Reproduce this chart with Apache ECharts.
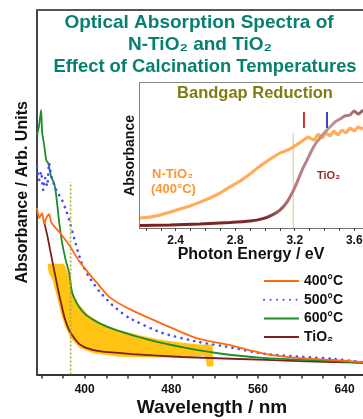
<!DOCTYPE html>
<html><head><meta charset="utf-8">
<script src="https://cdn.jsdelivr.net/npm/echarts@6/dist/echarts.min.js"></script>
<style>html,body{margin:0;padding:0;background:#fff}#c{width:363px;height:419px}</style>
</head><body><div id="c"></div>
<script>
// ---------- main panel data (wavelength nm, absorbance a.u.) ----------
const wlTicks = [360,380,400,420,440,460,480,500,520,540,560,580,600,620,640];
const wlLabels = [400,480,560,640];

const nm400 = [356,358,360.8,362.6,364.5,367.2,369.1,371.8,376.5,381.1,385.7,390.3,394.9,404.2,410.6,422.6,441.1,471.6,503,533.4,567.6,598.1,628.5,656.2,678.4];
const abs400 = [0.457,0.429,0.443,0.413,0.429,0.440,0.418,0.407,0.391,0.374,0.355,0.333,0.311,0.276,0.254,0.213,0.180,0.139,0.100,0.081,0.056,0.045,0.040,0.034,0.029];

const nm500 = [356.1,358,359.8,361.7,363.5,365.4,367.2,369.1,371.8,374.6,378.3,382,385.7,390.3,396.8,404.2,413.4,425.4,441.1,471.6,505.7,533.4,567.6,628.5,656.2,678.4];
const abs500 = [0.569,0.534,0.556,0.506,0.539,0.517,0.580,0.547,0.520,0.501,0.484,0.457,0.424,0.374,0.309,0.267,0.229,0.191,0.155,0.114,0.089,0.075,0.056,0.043,0.034,0.029];

const nm600 = [356.1,358,359.8,360.8,362.6,364.5,366.3,369.1,371.8,373.7,376.5,379.2,382.9,385.7,388.5,394.9,401.4,413.4,429.1,459.6,490,521.4,567.6,628.5,656.2,678.4];
const abs600 = [0.657,0.684,0.726,0.663,0.630,0.588,0.580,0.542,0.525,0.492,0.418,0.361,0.309,0.279,0.224,0.185,0.163,0.141,0.122,0.095,0.075,0.059,0.045,0.037,0.032,0.029];

const nmTiO2 = [362.6,365.4,368.1,370.9,373.7,376.5,379.2,382,385.7,390.3,394.9,401.4,413.4,443.9,490,567.6,628.5,656.2,678.4];
const absTiO2 = [0.418,0.383,0.342,0.300,0.259,0.218,0.183,0.150,0.122,0.100,0.084,0.073,0.064,0.056,0.048,0.040,0.034,0.032,0.029];

// yellow highlighted region outline
const nmYellow = [367.2,380.1,383.8,387.5,393.1,402.3,413.4,429.1,450.3,468.8,482.6,505.7,516.8,517.7,514,512.2,487.3,459.6,431.9,408.8,396.8,388.5,382.9,379.2,375.5,371.8,368.1];
const absYellow = [0.300,0.300,0.273,0.226,0.191,0.161,0.139,0.120,0.104,0.092,0.086,0.078,0.078,0.026,0.026,0.056,0.051,0.051,0.053,0.062,0.075,0.100,0.136,0.171,0.218,0.259,0.281];

const cutoffNm = 387;

// ---------- inset data (photon energy eV, absorbance) ----------
const evTicks = [2.2,2.3,2.4,2.5,2.6,2.7,2.8,2.9,3.0,3.1,3.2,3.3,3.4,3.5,3.6];
const evLabels = [2.4,2.8,3.2,3.6];

const evN = [2.160,2.227,2.294,2.362,2.429,2.496,2.563,2.631,2.698,2.765,2.832,2.899,2.967,3.034,3.101,3.168,3.209,3.249,3.289,3.330,3.357,3.384,3.410,3.437,3.464,3.491,3.518,3.545,3.572,3.599,3.626,3.659];
const absN = [0.082,0.088,0.102,0.122,0.143,0.163,0.190,0.218,0.252,0.293,0.333,0.381,0.435,0.483,0.524,0.551,0.578,0.605,0.633,0.612,0.653,0.626,0.660,0.639,0.673,0.646,0.680,0.660,0.694,0.673,0.701,0.687];

const evT = [2.160,2.362,2.563,2.765,2.899,2.987,3.047,3.101,3.148,3.189,3.222,3.256,3.283,3.316,3.343,3.370,3.404,3.437,3.471,3.504,3.538,3.572,3.599,3.626,3.659];
const absT = [0.031,0.034,0.041,0.051,0.061,0.078,0.102,0.136,0.190,0.265,0.340,0.422,0.476,0.544,0.592,0.626,0.667,0.701,0.735,0.755,0.776,0.782,0.810,0.789,0.816];

const gapN = 3.262, gapT = 3.417, markLo = 0.694, markHi = 0.803;
const edgeEv = 3.19, edgeTop = 0.66;

// ---------- helpers ----------
const zip = (a, b) => a.map((v, i) => [v, b[i]]);
const F = "'Liberation Sans', Arial, sans-serif";
const bold = (size, color) => ({fontFamily: F, fontWeight: 'bold', fontSize: size, color: color || '#111'});
const txt = (x, y, text, size, fill, align) => ({type: 'text', x, y, z: 10,
  style: {text, fontFamily: F, fontWeight: 'bold', fontSize: size, fill, align: align || 'center', verticalAlign: 'middle'}});

const chart = echarts.init(document.getElementById('c'), null, {renderer: 'canvas'});
const yellowPts = zip(nmYellow, absYellow);

const lineS = (name, x, y, color, width, extra) => Object.assign({
  name, type: 'line', xAxisIndex: 0, yAxisIndex: 0, data: zip(x, y), symbol: 'none', smooth: 0.2,
  lineStyle: {color, width}, itemStyle: {color}, z: 5
}, extra || {});

const topLine = (gi, min, max, color, w) => ({gridIndex: gi, type: 'value', position: 'top', min, max,
  axisLine: {show: true, onZero: false, lineStyle: {color, width: w}},
  axisTick: {show: false}, axisLabel: {show: false}, splitLine: {show: false}});

const option = {
  animation: false,
  backgroundColor: '#fff',
  grid: [
    {left: 37, top: 10, right: 0, bottom: 44.5, outerBoundsMode: 'none', containLabel: false},
    {left: 140, top: 83, right: 0, bottom: 191, outerBoundsMode: 'none', containLabel: false,
     show: true, borderWidth: 0, backgroundColor: '#fff', z: 1}
  ],
  xAxis: [
    {gridIndex: 0, type: 'value', min: 356, max: 657,
     axisLine: {show: true, onZero: false, lineStyle: {color: '#333', width: 2}},
     axisTick: {show: true, customValues: wlTicks, length: 4, lineStyle: {color: '#333', width: 1.5}},
     axisLabel: Object.assign({customValues: wlLabels, margin: 9}, bold(12)),
     splitLine: {show: false}},
    {gridIndex: 1, type: 'value', min: 2.16, max: 3.659,
     axisLine: {show: true, onZero: false, lineStyle: {color: '#444', width: 1.5}},
     axisTick: {show: true, customValues: evTicks, length: 3, lineStyle: {color: '#444', width: 1}},
     axisLabel: Object.assign({customValues: evLabels, margin: 7, formatter: v => v.toFixed(1)}, bold(12)),
     splitLine: {show: false}},
    topLine(0, 356, 657, '#555', 2),
    topLine(1, 2.16, 3.659, '#666', 1.5)
  ],
  yAxis: [
    {gridIndex: 0, type: 'value', min: 0, max: 1,
     axisLine: {show: true, onZero: false, lineStyle: {color: '#444', width: 2}},
     axisTick: {show: false}, axisLabel: {show: false}, splitLine: {show: false},
     name: 'Absorbance / Arb. Units', nameLocation: 'middle', nameGap: 6, nameTextStyle: bold(16)},
    {gridIndex: 1, type: 'value', min: 0.014, max: 1,
     axisLine: {show: true, onZero: false, lineStyle: {color: '#555', width: 1.5}},
     axisTick: {show: false}, axisLabel: {show: false}, splitLine: {show: false},
     name: 'Absorbance', nameLocation: 'middle', nameGap: 3, nameTextStyle: bold(14)}
  ],
  legend: {
    data: ['400°C', '500°C', '600°C', 'TiO₂'],
    orient: 'vertical', left: 263, top: 274, padding: 0, itemWidth: 35, itemHeight: 14, itemGap: 4.7,
    itemStyle: {opacity: 0},
    textStyle: bold(14), selectedMode: false
  },
  graphic: [
    txt(199, 23, 'Optical Absorption Spectra of', 19, '#08806f'),
    txt(200, 45, 'N-TiO₂ and TiO₂', 19, '#08806f'),
    txt(205, 67, 'Effect of Calcination Temperatures', 18.4, '#08806f'),
    txt(255, 93, 'Bandgap Reduction', 16.5, '#7d7d12'),
    txt(152, 174, 'N-TiO₂', 13, '#ff9530', 'left'),
    txt(151, 189, '(400°C)', 13, '#ff9530', 'left'),
    txt(317, 176, 'TiO₂', 11, '#8b2e2e', 'left'),
    txt(251, 255, 'Photon Energy / eV', 16, '#111'),
    txt(212, 408, 'Wavelength / nm', 19, '#111')
  ],
  series: [
    {type: 'custom', name: 'highlight', xAxisIndex: 0, yAxisIndex: 0, data: yellowPts, z: 3,
     encode: {x: 0, y: 1},
     renderItem: function (params, api) {
       if (params.dataIndex !== 0) return null;
       const pts = yellowPts.map(p => api.coord(p));
       return {type: 'polygon', shape: {points: pts},
               style: {fill: '#ffc414', stroke: '#ffc414', lineWidth: 3, lineJoin: 'round'}};
     }},
    lineS('TiO₂', nmTiO2, absTiO2, '#7d1f1f', 1.8),
    lineS('600°C', nm600, abs600, '#1e8c2a', 1.8),
    lineS('500°C', nm500, abs500, '#3f4dff', 2.6, {lineStyle: {color: '#3f4dff', width: 2.6, type: [0.1, 6.4], cap: 'round'}}),
    lineS('400°C', nm400, abs400, '#ff6a10', 1.8),
    {type: 'line', name: 'edge', xAxisIndex: 0, yAxisIndex: 0, data: [[cutoffNm, 0], [cutoffNm, 0.528]], symbol: 'none', z: 6,
     lineStyle: {color: '#b0aa3a', width: 1.6, type: [2, 2]}},
    // inset
    {type: 'line', name: 'N-TiO2 inset', xAxisIndex: 1, yAxisIndex: 1, data: zip(evN, absN), symbol: 'none', z: 5,
     lineStyle: {color: '#ffa448', width: 3.2, opacity: 0.9}},
    {type: 'line', name: 'TiO2 inset', xAxisIndex: 1, yAxisIndex: 1, data: zip(evT, absT), symbol: 'none', smooth: 0.2, z: 5,
     lineStyle: {width: 3, color: new echarts.graphic.LinearGradient(0, 0, 1, 0, [
       {offset: 0, color: '#7a2020'}, {offset: 0.55, color: '#7d2a2a'}, {offset: 0.68, color: '#b57a7a'},
       {offset: 0.85, color: '#c29494'}, {offset: 1, color: '#9a5a5a'}])}},
    {type: 'line', name: 'Eg N', xAxisIndex: 1, yAxisIndex: 1, data: [[gapN, markLo], [gapN, markHi]], symbol: 'none', z: 6,
     lineStyle: {color: '#e02828', width: 2}},
    {type: 'line', name: 'Eg T', xAxisIndex: 1, yAxisIndex: 1, data: [[gapT, markLo], [gapT, markHi]], symbol: 'none', z: 6,
     lineStyle: {color: '#3a48c0', width: 2}},
    {type: 'line', name: 'edge inset', xAxisIndex: 1, yAxisIndex: 1, data: [[edgeEv, 0.014], [edgeEv, edgeTop]], symbol: 'none', z: 4,
     lineStyle: {color: '#cfcf7a', width: 1}}
  ]
};
chart.setOption(option);
</script></body></html>
